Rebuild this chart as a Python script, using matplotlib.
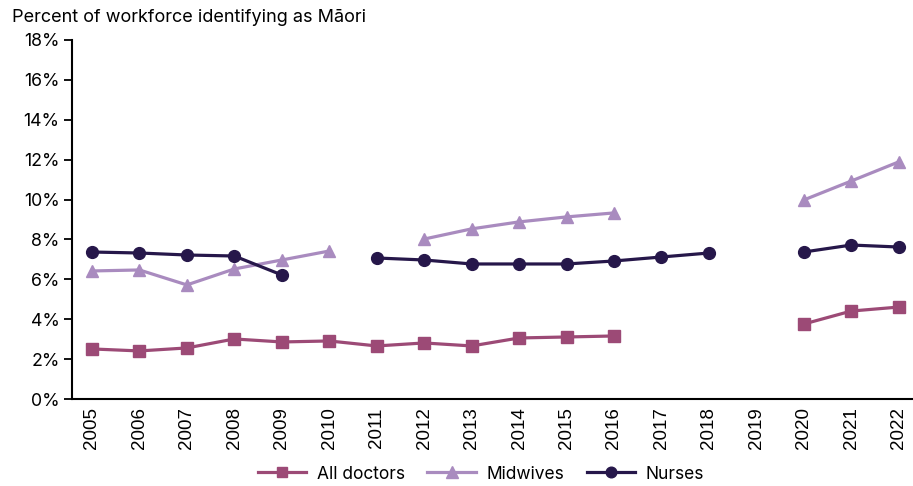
import numpy as np
import matplotlib.pyplot as plt
from matplotlib.ticker import FuncFormatter

years = [str(y) for y in range(2005, 2023)]
nan = np.nan
# values in percent, gaps where no data
doctors = [2.51, 2.41, 2.56, 3.01, 2.86, 2.91, 2.66, 2.81, 2.66, 3.06, 3.11, 3.16,
           nan, nan, nan, 3.76, 4.41, 4.61]
midwives = [6.42, 6.47, 5.72, 6.52, 6.97, 7.42, nan, 8.02, 8.53, 8.88, 9.13, 9.33,
            nan, nan, nan, 9.98, 10.93, 11.89]
nurses = [7.37, 7.32, 7.22, 7.17, 6.22, nan, 7.07, 6.97, 6.77, 6.77, 6.77, 6.92,
          7.12, 7.32, nan, 7.37, 7.72, 7.62]

c_doc = '#9c4a76'
c_mid = '#a98bbf'
c_nur = '#26174a'

fig = plt.figure(figsize=(9.13, 4.86), dpi=100)
ax = fig.add_axes([72 / 913, 87 / 486, 841 / 913, 359 / 486])

x = np.arange(len(years))
ax.plot(x, doctors, color=c_doc, lw=2.3, marker='s', ms=8.5, label='All doctors')
ax.plot(x, midwives, color=c_mid, lw=2.3, marker='^', ms=9, label='Midwives')
ax.plot(x, nurses, color=c_nur, lw=2.3, marker='o', ms=8.5, label='Nurses')

ax.set_xlim(-0.42, 17.3)
ax.set_ylim(0, 18)
ax.set_yticks(range(0, 19, 2))
ax.yaxis.set_major_formatter(FuncFormatter(lambda v, p: f'{v:.0f}%'))
ax.set_xticks(x)
ax.set_xticklabels(years, rotation=90, family='Liberation Sans', fontsize=13.5)
ax.tick_params(axis='x', length=0, pad=6)
ax.tick_params(axis='y', length=6, width=1.3, labelsize=12.8, pad=3)
for lab in ax.get_yticklabels():
    lab.set_family('Inter')

for s in ['top', 'right']:
    ax.spines[s].set_visible(False)
ax.spines['left'].set_linewidth(1.5)
ax.spines['bottom'].set_linewidth(1.5)

fig.text(12 / 913, 1 - 18 / 486, 'Percent of workforce identifying as M\u0101ori',
         family='Inter', fontsize=13, va='center', ha='left')

leg = fig.legend(loc='center', bbox_to_anchor=(481 / 913, 1 - 474 / 486), ncol=3,
                 frameon=False, prop={'family': 'Inter', 'size': 12.5},
                 handlelength=2.8, columnspacing=1.3, handletextpad=0.6,
                 markerscale=0.9)

fig.savefig('out.png', dpi=100)
